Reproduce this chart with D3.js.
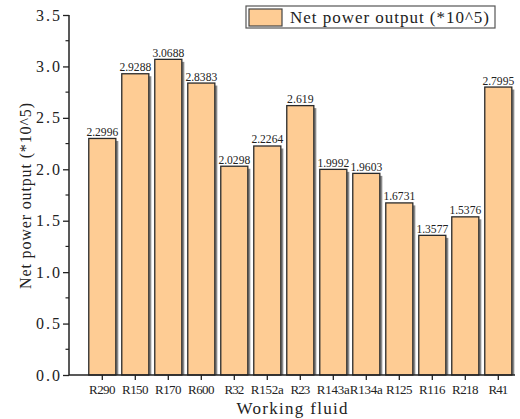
<!DOCTYPE html>
<html><head><meta charset="utf-8">
<script src="https://cdn.jsdelivr.net/npm/d3@7"></script>
<style>body{margin:0;background:#fff}svg{display:block}text{font-family:"Liberation Serif",serif;fill:#222}</style>
</head><body><svg id="c" width="520" height="419"></svg>
<script>
const categories = ["R290","R150","R170","R600","R32","R152a","R23","R143a","R134a","R125","R116","R218","R41"];
const values = [2.2996,2.9288,3.0688,2.8383,2.0298,2.2264,2.619,1.9992,1.9603,1.6731,1.3577,1.5376,2.7995];
const valueLabels = ["2.2996","2.9288","3.0688","2.8383","2.0298","2.2264","2.619","1.9992","1.9603","1.6731","1.3577","1.5376","2.7995"];
const yTicks = [0,0.5,1,1.5,2,2.5,3,3.5];
const yTickLabels = ["0.0","0.5","1.0","1.5","2.0","2.5","3.0","3.5"];
const seriesName = "Net power output (*10^5)";
const yTitle = "Net power output (*10^5)";
const xTitle = "Working fluid";

const svg = d3.select("#c");
const x = d3.scaleBand().domain(categories).range([85.8,514.8]).paddingInner(0.18).paddingOuter(0.09);
const y = d3.scaleLinear().domain([0,3.5]).range([375,15]);
const fillC = "#FECC94", strokeC = "#2a2a2a", shadowC = "#8a8a8a";
const cw = 6.6, vw = 5.3;

// shadows
svg.append("g").selectAll("rect").data(values).join("rect")
  .attr("x",(d,i)=>x(categories[i])+2.5).attr("y",d=>y(d)+2.5)
  .attr("width",x.bandwidth()).attr("height",d=>y(0)-y(d)-2.5)
  .attr("fill",shadowC);
// bars
svg.append("g").selectAll("rect").data(values).join("rect")
  .attr("x",(d,i)=>x(categories[i])).attr("y",d=>y(d))
  .attr("width",x.bandwidth()).attr("height",d=>y(0)-y(d))
  .attr("fill",fillC).attr("stroke",strokeC).attr("stroke-width",1.3);
// value labels
svg.append("g").selectAll("text").data(values).join("text")
  .attr("x",(d,i)=>x(categories[i])+x.bandwidth()/2).attr("y",d=>y(d)-2.5)
  .attr("text-anchor","middle").attr("font-size",13)
  .attr("textLength",(d,i)=>valueLabels[i].length*vw).attr("lengthAdjust","spacingAndGlyphs")
  .text((d,i)=>valueLabels[i]);

// y axis
const yAxis = d3.axisLeft(y).tickValues(yTicks).tickFormat((d,i)=>yTickLabels[i]).tickSize(6).tickPadding(3);
const gy = svg.append("g").attr("transform","translate(69,0)").call(yAxis);
gy.select(".domain").attr("stroke","#222").attr("stroke-width",1.5).attr("d","M0,375V15");
gy.selectAll(".tick line").attr("stroke","#222").attr("stroke-width",1.3);
gy.selectAll(".tick text").attr("font-size",16).attr("font-family","Liberation Serif").attr("fill","#222")
  .attr("textLength",24).attr("lengthAdjust","spacing");
const minor = d3.range(0.25,3.5,0.5);
gy.selectAll(".minor").data(minor).join("line").attr("class","minor")
  .attr("x1",-3.5).attr("x2",0).attr("y1",d=>y(d)).attr("y2",d=>y(d)).attr("stroke","#222").attr("stroke-width",1.2);

// x axis
const xAxis = d3.axisBottom(x).tickSize(5).tickPadding(5);
const gx = svg.append("g").attr("transform","translate(0,375)").call(xAxis);
gx.select(".domain").attr("stroke","#222").attr("stroke-width",1.5).attr("d","M69,0H515");
gx.selectAll(".tick line").attr("stroke","#222").attr("stroke-width",1.3);
gx.selectAll(".tick text").attr("font-size",13).attr("font-family","Liberation Serif").attr("fill","#222")
  .attr("textLength",d=>d.length*cw).attr("lengthAdjust","spacing");

// titles
svg.append("text").attr("x",292).attr("y",414).attr("text-anchor","middle").attr("font-size",17)
  .attr("textLength",111).attr("lengthAdjust","spacing").text(xTitle);
svg.append("text").attr("transform","translate(31,196) rotate(-90)").attr("text-anchor","middle").attr("font-size",16)
  .attr("textLength",186).attr("lengthAdjust","spacing").text(yTitle);

// legend
const lg = svg.append("g");
lg.append("rect").attr("x",246).attr("y",6).attr("width",249).attr("height",22).attr("fill","#fff").attr("stroke","#555").attr("stroke-width",1.2);
lg.append("rect").attr("x",249).attr("y",9).attr("width",33).attr("height",17).attr("fill",fillC).attr("stroke","#444").attr("stroke-width",1.2);
lg.append("text").attr("x",290).attr("y",23).attr("font-size",17).attr("textLength",199).attr("lengthAdjust","spacing").text(seriesName);
</script></body></html>
